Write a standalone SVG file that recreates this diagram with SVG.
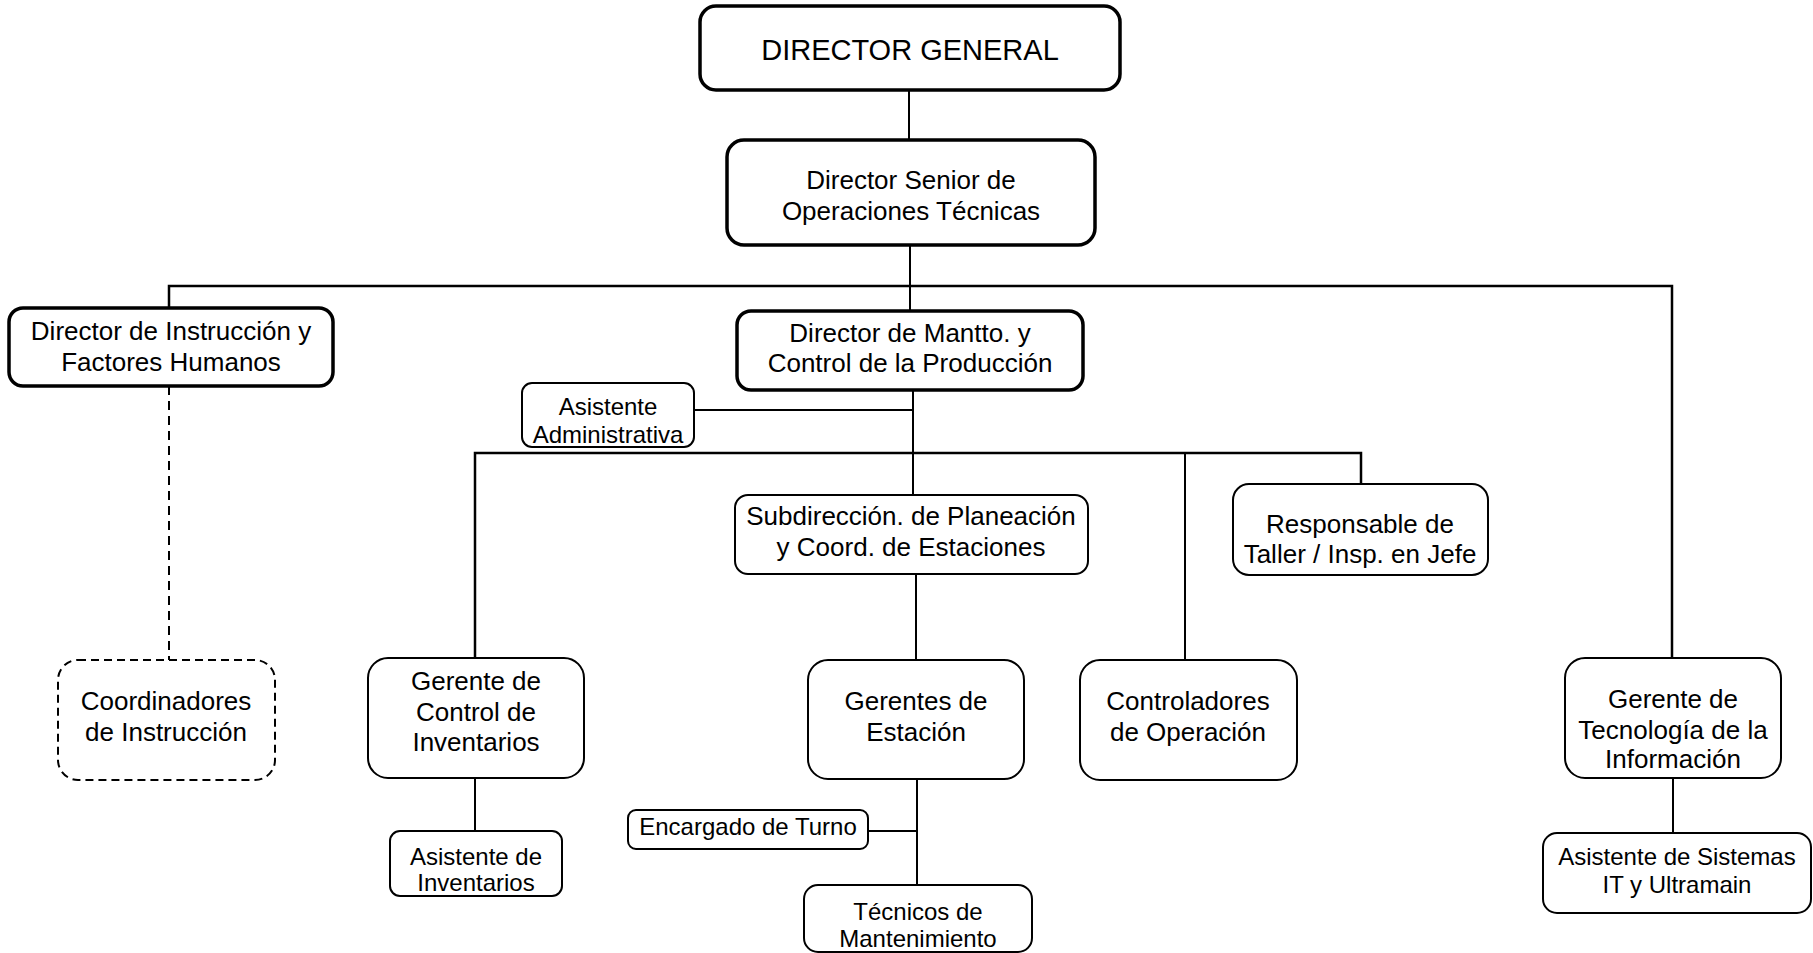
<svg xmlns="http://www.w3.org/2000/svg" width="1813" height="953" viewBox="0 0 1813 953">
<style>
.box{fill:#fff;stroke:#000;stroke-width:2}
.thick{fill:#fff;stroke:#000;stroke-width:3.5}
.dash{fill:#fff;stroke:#000;stroke-width:2;stroke-dasharray:8 5}
.ln{fill:none;stroke:#000;stroke-width:2}
.bus{fill:none;stroke:#000;stroke-width:2.5}
.dl{fill:none;stroke:#000;stroke-width:2;stroke-dasharray:9 6}
text{font-family:"Liberation Sans",Arial,sans-serif;fill:#000;text-anchor:middle}
.t26{font-size:26px}
.t24{font-size:24px}
.t29{font-size:29px}
</style>
<rect width="1813" height="953" fill="#fff"/>
<g id="connectors">
<path class="ln" d="M909 90V140"/>
<path class="ln" d="M910 245V311"/>
<path class="bus" d="M169 308V286H1672V658"/>
<path class="dl" d="M169 386V660"/>
<path class="ln" d="M913 390V495"/>
<path class="ln" d="M694 410H913"/>
<path class="bus" d="M475 658V453H1361V484"/>
<path class="ln" d="M1185 453V660"/>
<path class="ln" d="M916 574V660"/>
<path class="ln" d="M475 778V831"/>
<path class="ln" d="M917 779V885"/>
<path class="ln" d="M868 831H917"/>
<path class="ln" d="M1673 778V833"/>
</g>
<g id="director-general">
<rect class="thick" x="700" y="6" width="420" height="84" rx="16"/>
<text class="t29" x="910" y="60">DIRECTOR GENERAL</text>
</g>
<g id="director-senior">
<rect class="thick" x="727" y="140" width="368" height="105" rx="17"/>
<text class="t26" x="911" y="189">Director Senior de</text>
<text class="t26" x="911" y="220">Operaciones Técnicas</text>
</g>
<g id="director-instruccion">
<rect class="thick" x="9" y="308" width="324" height="78" rx="14"/>
<text class="t26" x="171" y="340">Director de Instrucción y</text>
<text class="t26" x="171" y="371">Factores Humanos</text>
</g>
<g id="director-mantto">
<rect class="thick" x="737" y="311" width="346" height="79" rx="14"/>
<text class="t26" x="910" y="342">Director de Mantto. y</text>
<text class="t26" x="910" y="372">Control de la Producción</text>
</g>
<g id="asistente-administrativa">
<rect class="box" x="522" y="383" width="172" height="64" rx="10"/>
<text class="t24" x="608" y="415">Asistente</text>
<text class="t24" x="608" y="443">Administrativa</text>
</g>
<g id="subdireccion">
<rect class="box" x="735" y="495" width="353" height="79" rx="13"/>
<text class="t26" x="911" y="525">Subdirección. de Planeación</text>
<text class="t26" x="911" y="556">y Coord. de Estaciones</text>
</g>
<g id="responsable-taller">
<rect class="box" x="1233" y="484" width="255" height="91" rx="16"/>
<text class="t26" x="1360" y="533">Responsable de</text>
<text class="t26" x="1360" y="563">Taller / Insp. en Jefe</text>
</g>
<g id="coordinadores">
<rect class="dash" x="58" y="660" width="217" height="120" rx="20"/>
<text class="t26" x="166" y="710">Coordinadores</text>
<text class="t26" x="166" y="741">de Instrucción</text>
</g>
<g id="gerente-inventarios">
<rect class="box" x="368" y="658" width="216" height="120" rx="20"/>
<text class="t26" x="476" y="690">Gerente de</text>
<text class="t26" x="476" y="721">Control de</text>
<text class="t26" x="476" y="751">Inventarios</text>
</g>
<g id="gerentes-estacion">
<rect class="box" x="808" y="660" width="216" height="119" rx="20"/>
<text class="t26" x="916" y="710">Gerentes de</text>
<text class="t26" x="916" y="741">Estación</text>
</g>
<g id="controladores">
<rect class="box" x="1080" y="660" width="217" height="120" rx="20"/>
<text class="t26" x="1188" y="710">Controladores</text>
<text class="t26" x="1188" y="741">de Operación</text>
</g>
<g id="gerente-tecnologia">
<rect class="box" x="1565" y="658" width="216" height="120" rx="20"/>
<text class="t26" x="1673" y="708">Gerente de</text>
<text class="t26" x="1673" y="739">Tecnología de la</text>
<text class="t26" x="1673" y="768">Información</text>
</g>
<g id="asistente-inventarios">
<rect class="box" x="390" y="831" width="172" height="65" rx="10"/>
<text class="t24" x="476" y="865">Asistente de</text>
<text class="t24" x="476" y="891">Inventarios</text>
</g>
<g id="encargado-turno">
<rect class="box" x="628" y="810" width="240" height="39" rx="8"/>
<text class="t24" x="748" y="835">Encargado de Turno</text>
</g>
<g id="tecnicos">
<rect class="box" x="804" y="885" width="228" height="67" rx="14"/>
<text class="t24" x="918" y="920">Técnicos de</text>
<text class="t24" x="918" y="947">Mantenimiento</text>
</g>
<g id="asistente-sistemas">
<rect class="box" x="1543" y="833" width="268" height="80" rx="14"/>
<text class="t24" x="1677" y="865">Asistente de Sistemas</text>
<text class="t24" x="1677" y="893">IT y Ultramain</text>
</g>
</svg>
